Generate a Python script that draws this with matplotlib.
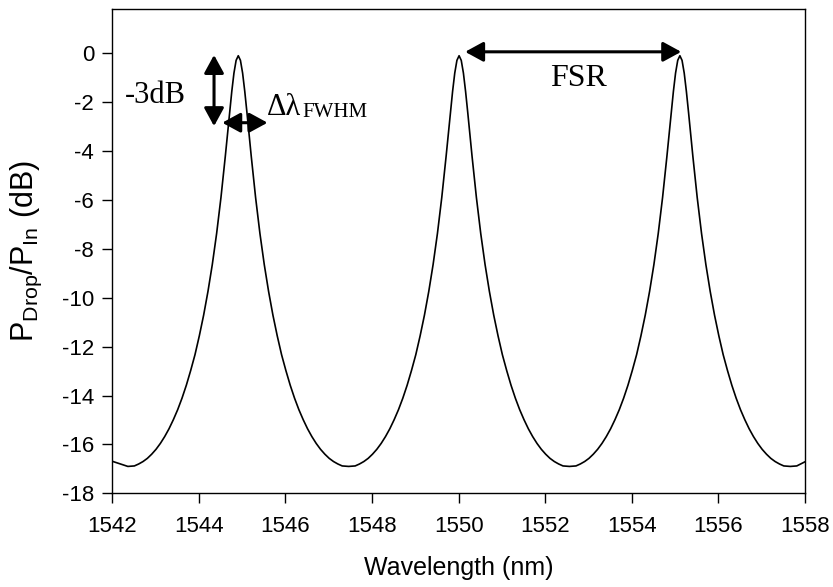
import matplotlib
matplotlib.use("Agg")
import matplotlib.pyplot as plt

# =====================================
# DATA
# one row per half period: trough -> peak or peak -> trough
# =====================================
wavelength = [
    1542.00, 1542.36,
    1542.51, 1542.61, 1542.71, 1542.81, 1542.91, 1543.01, 1543.11, 1543.21, 1543.31, 1543.41,
    1543.51, 1543.61, 1543.71, 1543.81, 1543.91, 1544.01, 1544.11, 1544.21, 1544.31, 1544.41,
    1544.46, 1544.51, 1544.56, 1544.61, 1544.66, 1544.71, 1544.76, 1544.81, 1544.86, 1544.91,
    1544.96, 1545.01, 1545.06, 1545.11, 1545.16, 1545.21, 1545.26, 1545.31, 1545.36, 1545.41,
    1545.51, 1545.61, 1545.71, 1545.81, 1545.91, 1546.01, 1546.11, 1546.21, 1546.31, 1546.41,
    1546.51, 1546.61, 1546.71, 1546.81, 1546.91, 1547.01, 1547.11, 1547.21, 1547.31, 1547.46,
    1547.61, 1547.71, 1547.81, 1547.91, 1548.01, 1548.11, 1548.21, 1548.31, 1548.41, 1548.51,
    1548.61, 1548.71, 1548.81, 1548.91, 1549.01, 1549.11, 1549.21, 1549.31, 1549.41, 1549.51,
    1549.56, 1549.61, 1549.66, 1549.71, 1549.76, 1549.81, 1549.86, 1549.91, 1549.96, 1550.01,
    1550.06, 1550.11, 1550.16, 1550.21, 1550.26, 1550.31, 1550.36, 1550.41, 1550.46, 1550.51,
    1550.61, 1550.71, 1550.81, 1550.91, 1551.01, 1551.11, 1551.21, 1551.31, 1551.41, 1551.51,
    1551.61, 1551.71, 1551.81, 1551.91, 1552.01, 1552.11, 1552.21, 1552.31, 1552.41, 1552.56,
    1552.71, 1552.81, 1552.91, 1553.01, 1553.11, 1553.21, 1553.31, 1553.41, 1553.51, 1553.61,
    1553.71, 1553.81, 1553.91, 1554.01, 1554.11, 1554.21, 1554.31, 1554.41, 1554.51, 1554.61,
    1554.66, 1554.71, 1554.76, 1554.81, 1554.86, 1554.91, 1554.96, 1555.01, 1555.06, 1555.11,
    1555.16, 1555.21, 1555.26, 1555.31, 1555.36, 1555.41, 1555.46, 1555.51, 1555.56, 1555.61,
    1555.71, 1555.81, 1555.91, 1556.01, 1556.11, 1556.21, 1556.31, 1556.41, 1556.51, 1556.61,
    1556.71, 1556.81, 1556.91, 1557.01, 1557.11, 1557.21, 1557.31, 1557.41, 1557.51, 1557.66,
    1557.81, 1558.00,
]
p_drop = [
    -16.69, -16.90,
    -16.88, -16.80, -16.70, -16.57, -16.40, -16.20, -15.96, -15.68, -15.36, -14.99,
    -14.58, -14.11, -13.58, -12.98, -12.33, -11.56, -10.71, -9.74, -8.64, -7.37,
    -6.64, -5.90, -5.08, -4.22, -3.33, -2.42, -1.56, -0.81, -0.29, -0.10,
    -0.29, -0.81, -1.56, -2.42, -3.33, -4.22, -5.08, -5.90, -6.64, -7.37,
    -8.64, -9.74, -10.71, -11.56, -12.33, -12.98, -13.58, -14.11, -14.58, -14.99,
    -15.36, -15.68, -15.96, -16.20, -16.40, -16.57, -16.70, -16.80, -16.88, -16.90,
    -16.88, -16.80, -16.70, -16.57, -16.40, -16.20, -15.96, -15.68, -15.36, -14.99,
    -14.58, -14.11, -13.58, -12.98, -12.33, -11.56, -10.71, -9.74, -8.64, -7.37,
    -6.64, -5.90, -5.08, -4.22, -3.33, -2.42, -1.56, -0.81, -0.29, -0.10,
    -0.29, -0.81, -1.56, -2.42, -3.33, -4.22, -5.08, -5.90, -6.64, -7.37,
    -8.64, -9.74, -10.71, -11.56, -12.33, -12.98, -13.58, -14.11, -14.58, -14.99,
    -15.36, -15.68, -15.96, -16.20, -16.40, -16.57, -16.70, -16.80, -16.88, -16.90,
    -16.88, -16.80, -16.70, -16.57, -16.40, -16.20, -15.96, -15.68, -15.36, -14.99,
    -14.58, -14.11, -13.58, -12.98, -12.33, -11.56, -10.71, -9.74, -8.64, -7.37,
    -6.64, -5.90, -5.08, -4.22, -3.33, -2.42, -1.56, -0.81, -0.29, -0.10,
    -0.29, -0.81, -1.56, -2.42, -3.33, -4.22, -5.08, -5.90, -6.64, -7.37,
    -8.64, -9.74, -10.71, -11.56, -12.33, -12.98, -13.58, -14.11, -14.58, -14.99,
    -15.36, -15.68, -15.96, -16.20, -16.40, -16.57, -16.70, -16.80, -16.88, -16.90,
    -16.88, -16.71,
]

x_ticks = [1542, 1544, 1546, 1548, 1550, 1552, 1554, 1556, 1558]
y_ticks = [0, -2, -4, -6, -8, -10, -12, -14, -16, -18]

# =====================================
# FIGURE
# =====================================
plt.rcParams["font.family"] = ["Liberation Sans", "DejaVu Sans"]
plt.rcParams["mathtext.default"] = "regular"
plt.rcParams["axes.unicode_minus"] = False

fig = plt.figure(figsize=(8.33, 5.87), dpi=100)
ax = fig.add_axes([0.1348, 0.1596, 0.8316, 0.8246])

ax.plot(wavelength, p_drop, color="black", lw=1.2, solid_joinstyle="round")

ax.set_xlim(1542, 1558)
ax.set_ylim(-18, 1.8)
ax.set_xticks(x_ticks)
ax.set_yticks(y_ticks)
ax.tick_params(direction="out", length=7, width=1, labelsize=16)
ax.tick_params(axis="x", pad=9)
ax.tick_params(axis="y", pad=6)
for s in ax.spines.values():
    s.set_linewidth(1.0)

ax.set_xlabel("Wavelength (nm)", fontsize=18)
ax.set_ylabel(r"P$_{Drop}$/P$_{In}$ (dB)", fontsize=22)
ax.xaxis.set_label_coords(0.5, -0.13)
ax.yaxis.set_label_coords(-0.098, 0.5)

# =====================================
# ANNOTATIONS
# =====================================
serif = ["Liberation Serif", "DejaVu Serif"]
arrow = dict(arrowstyle="<|-|>,head_length=0.55,head_width=0.3",
             color="black", lw=2.2, shrinkA=0, shrinkB=0, mutation_scale=20)

# -3dB vertical arrow
ax.annotate("", xy=(1544.35, -0.07), xytext=(1544.35, -2.98), arrowprops=arrow)
ax.text(1543.0, -2.03, "-3dB", family=serif, fontsize=22,
        ha="center", va="baseline")

# FWHM horizontal arrow
ax.annotate("", xy=(1544.54, -2.84), xytext=(1545.585, -2.84), arrowprops=arrow)
ax.text(1545.58, -2.53, "\u0394\u03bb", family=serif, fontsize=22,
        ha="left", va="baseline")
ax.text(1546.40, -2.60, "FWHM", family=serif, fontsize=15,
        ha="left", va="baseline")

# FSR arrow
ax.annotate("", xy=(1550.15, 0.06), xytext=(1555.14, 0.06), arrowprops=arrow)
ax.text(1552.76, -1.34, "FSR", family=serif, fontsize=23,
        ha="center", va="baseline")

fig.savefig("out.png", dpi=100)
